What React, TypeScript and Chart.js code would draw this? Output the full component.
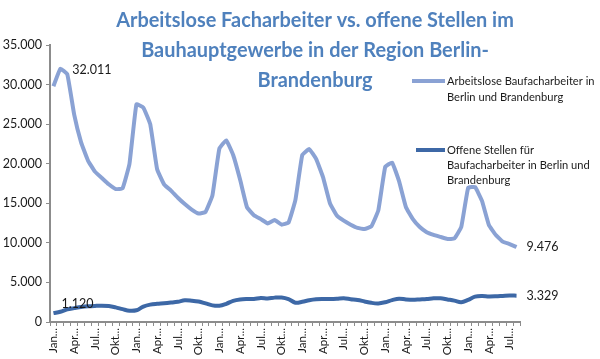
import React, { useEffect, useRef } from 'react';
import { Chart, registerables } from 'chart.js';

Chart.register(...registerables);

const MONTHS = ['Jan.', 'Feb.', 'Mrz.', 'Apr.', 'Mai', 'Jun.', 'Jul.', 'Aug.', 'Sep.', 'Okt.', 'Nov.', 'Dez.'];
const YEARS = ['2008', '2009', '2010', '2011', '2012', '2013'];
const CATEGORIES = YEARS.flatMap((y) => MONTHS.map((m) => `${m} ${y}`)).slice(0, 68);

const ARBEITSLOSE = [
  29800, 32011, 31300, 26200, 22700, 20400, 19000, 18200, 17400, 16800, 16900, 20000,
  27500, 27100, 25000, 19300, 17400, 16600, 15700, 14900, 14200, 13700, 13900, 16000,
  21900, 22950, 21100, 18000, 14500, 13500, 13000, 12460, 12880, 12300, 12550, 15400,
  21100, 21850, 20600, 18300, 15000, 13450, 12800, 12300, 11900, 11750, 12100, 14100,
  19600, 20150, 17800, 14500, 13000, 12000, 11350, 11000, 10750, 10500, 10550, 12000,
  16950, 17050, 15300, 12250, 11000, 10150, 9850, 9476,
];

const OFFENE_STELLEN = [
  1120, 1300, 1600, 1750, 1890, 1980, 2030, 2060, 2020, 1850, 1620, 1420,
  1480, 1950, 2200, 2300, 2360, 2450, 2560, 2740, 2690, 2580, 2350, 2100,
  2050, 2300, 2680, 2850, 2900, 2900, 3030, 2980, 3080, 3100, 2900, 2440,
  2550, 2750, 2870, 2900, 2900, 2930, 2990, 2880, 2780, 2600, 2420, 2350,
  2500, 2760, 2950, 2850, 2800, 2850, 2900, 3000, 3000, 2850, 2700, 2500,
  2800, 3200, 3280, 3230, 3250, 3300, 3350, 3329,
];

const Y_MIN = 0;
const Y_MAX = 35000;
const Y_STEP = 5000;

const TITLE_LINES = [
  'Arbeitslose Facharbeiter vs. offene Stellen im',
  'Bauhauptgewerbe in der Region Berlin-',
  'Brandenburg',
];
const LEGEND_1 = ['Arbeitslose Baufacharbeiter in', 'Berlin und Brandenburg'];
const LEGEND_2 = ['Offene Stellen für', 'Baufacharbeiter in Berlin und', 'Brandenburg'];

const COLOR_LIGHT = '#8aa2d4';
const COLOR_DARK = '#3d68a6';
const TITLE_COLOR = '#4f81bd';
const TEXT_COLOR = '#1a1a1a';
const AXIS_COLOR = '#8c8c8c';

const fmt = (v: number) => String(Math.round(v)).replace(/\B(?=(\d{3})+(?!\d))/g, '.');

const overlayPlugin = {
  id: 'overlay',
  afterDraw(chart: any) {
    const ctx = chart.ctx as CanvasRenderingContext2D;
    const xs = chart.scales.x;
    const ys = chart.scales.y;
    ctx.save();

    // Title
    ctx.fillStyle = TITLE_COLOR;
    ctx.textAlign = 'center';
    ctx.textBaseline = 'middle';
    ctx.font = 'bold 20px Lato';
    const tw = ctx.measureText(TITLE_LINES[0]).width;
    const tsize = (20 * 398) / tw;
    ctx.font = `bold ${tsize}px Lato`;
    TITLE_LINES.forEach((t, i) => ctx.fillText(t, 315, 21 + i * 30));

    // Legend
    ctx.font = '12px Lato';
    const lw = ctx.measureText(LEGEND_2[1]).width;
    const lsize = (12 * 143) / lw;
    ctx.font = `${lsize}px Lato`;
    ctx.textAlign = 'left';
    ctx.fillStyle = TEXT_COLOR;
    ctx.lineWidth = 4;
    ctx.lineCap = 'butt';
    ctx.strokeStyle = COLOR_LIGHT;
    ctx.beginPath();
    ctx.moveTo(412, 81);
    ctx.lineTo(445, 81);
    ctx.stroke();
    LEGEND_1.forEach((t, i) => ctx.fillText(t, 447, 81 + i * 16));
    ctx.strokeStyle = COLOR_DARK;
    ctx.beginPath();
    ctx.moveTo(416, 150);
    ctx.lineTo(445, 150);
    ctx.stroke();
    LEGEND_2.forEach((t, i) => ctx.fillText(t, 447, 150 + i * 15));

    // Data labels
    const lbl = (arr: number[], i: number, dx: number, dy: number) => {
      const px = xs.getPixelForValue(i);
      const py = ys.getPixelForValue(arr[i]);
      ctx.fillText(fmt(arr[i]), px + dx, py + dy);
    };
    ctx.font = '12.5px Lato';
    ctx.fillStyle = TEXT_COLOR;
    let maxI = 0;
    ARBEITSLOSE.forEach((v, i) => { if (v > ARBEITSLOSE[maxI]) maxI = i; });
    lbl(ARBEITSLOSE, maxI, 12, 1);
    lbl(ARBEITSLOSE, ARBEITSLOSE.length - 1, 10, 0);
    lbl(OFFENE_STELLEN, 0, 8, -9);
    lbl(OFFENE_STELLEN, OFFENE_STELLEN.length - 1, 10, 0);

    ctx.restore();
  },
};

export default function App() {
  const canvasRef = useRef<HTMLCanvasElement | null>(null);

  useEffect(() => {
    document.body.style.margin = '0';
    const canvas = canvasRef.current;
    if (!canvas) return;
    const chart = new Chart(canvas, {
      type: 'line',
      data: {
        labels: CATEGORIES,
        datasets: [
          {
            label: 'Arbeitslose Baufacharbeiter in Berlin und Brandenburg',
            data: ARBEITSLOSE,
            borderColor: COLOR_LIGHT,
            backgroundColor: COLOR_LIGHT,
            borderWidth: 4,
            pointRadius: 0,
            tension: 0.1,
          },
          {
            label: 'Offene Stellen für Baufacharbeiter in Berlin und Brandenburg',
            data: OFFENE_STELLEN,
            borderColor: COLOR_DARK,
            backgroundColor: COLOR_DARK,
            borderWidth: 4,
            pointRadius: 0,
            tension: 0.35,
          },
        ],
      },
      options: {
        responsive: false,
        animation: false,
        layout: { padding: { top: 45, right: 80, left: 0, bottom: 0 } },
        plugins: {
          legend: { display: false },
          title: { display: false },
          tooltip: { enabled: false },
        },
        scales: {
          x: {
            type: 'category',
            offset: true,
            grid: {
              display: true,
              drawOnChartArea: false,
              drawTicks: true,
              tickLength: 4,
              color: AXIS_COLOR,
              offset: true,
            },
            border: { display: true, color: AXIS_COLOR, width: 2 },
            ticks: {
              autoSkip: false,
              maxRotation: 90,
              minRotation: 90,
              padding: 2,
              color: TEXT_COLOR,
              font: { family: 'Lato', size: 11.5 },
              callback: (_v: any, i: number) =>
                i % 3 === 0 ? CATEGORIES[i].split(' ')[0] + '..' : '',
            },
            afterFit: (s: any) => { s.height = 37; },
          },
          y: {
            min: Y_MIN,
            max: Y_MAX,
            grid: {
              display: true,
              drawOnChartArea: false,
              drawTicks: true,
              tickLength: 4,
              color: AXIS_COLOR,
            },
            border: { display: true, color: AXIS_COLOR, width: 2 },
            ticks: {
              stepSize: Y_STEP,
              padding: 4,
              color: TEXT_COLOR,
              font: { family: 'Lato', size: 12.5 },
              callback: (v: any) => fmt(Number(v)),
            },
            afterFit: (s: any) => { s.width = 50; },
          },
        },
      },
      plugins: [overlayPlugin],
    });
    return () => chart.destroy();
  }, []);

  return (
    <div style={{ width: 600, height: 359, background: '#fff' }}>
      <canvas ref={canvasRef} width={600} height={359} style={{ display: 'block' }} />
    </div>
  );
}
